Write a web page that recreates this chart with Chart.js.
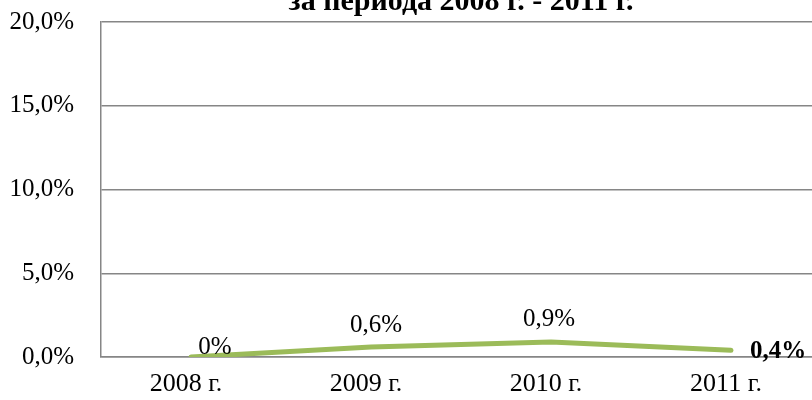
<!DOCTYPE html>
<html>
<head>
<meta charset="utf-8">
<script src="https://cdn.jsdelivr.net/npm/chart.js@4.4.1/dist/chart.umd.min.js"></script>
<style>
  html, body { margin: 0; padding: 0; overflow: hidden; background: #fff; }
  #wrap { position: absolute; left: 0; top: -20px; width: 822px; height: 420px; }
</style>
</head>
<body>
<div id="wrap"><canvas id="chart" width="822" height="420"></canvas></div>
<script>
const years = ["2008 г.", "2009 г.", "2010 г.", "2011 г."];
const shares = [0, 0.6, 0.9, 0.4];
const yTicks = [0, 5, 10, 15, 20];
const titleText = "за периода 2008 г. - 2011 г.";

const serif = "'Liberation Serif', 'Times New Roman', serif";

function pct(v) {
  return v === 0 ? "0%" : v.toFixed(1).replace(".", ",") + "%";
}

// value labels next to the points, offsets as in the original
const labelPlugin = {
  id: "valueLabels",
  afterDatasetsDraw(chart) {
    const ctx = chart.ctx;
    const meta = chart.getDatasetMeta(0);
    const offsets = [[24, -10], [5, -22], [-2, -22], [19, 1]];
    ctx.save();
    ctx.fillStyle = "#000";
    ctx.textBaseline = "middle";
    meta.data.forEach((pt, i) => {
      const last = i === meta.data.length - 1;
      ctx.font = (last ? "bold " : "") + "25px " + serif;
      ctx.textAlign = last ? "left" : "center";
      ctx.fillText(pct(shares[i]), pt.x + offsets[i][0], pt.y + offsets[i][1]);
    });
    ctx.restore();
  },
};

new Chart(document.getElementById("chart"), {
  type: "line",
  data: {
    labels: years,
    datasets: [
      {
        data: shares,
        borderColor: "#9BBB59",
        borderWidth: 5,
        borderCapStyle: "round",
        borderJoinStyle: "round",
        pointRadius: 0,
        tension: 0,
        fill: false,
      },
    ],
  },
  options: {
    responsive: false,
    animation: false,
    devicePixelRatio: 1,
    layout: { padding: { left: 0, right: 1, top: 0, bottom: 0 } },
    plugins: {
      legend: { display: false },
      tooltip: { enabled: false },
      title: {
        display: true,
        text: titleText,
        fullSize: false,
        color: "#000",
        font: { family: serif, size: 30, weight: "bold", lineHeight: 1.2 },
        padding: { top: 4, bottom: 2 },
      },
    },
    scales: {
      x: {
        offset: true,
        grid: { display: false, drawTicks: false },
        border: { display: true, color: "#868686", width: 1.5 },
        ticks: {
          color: "#000",
          font: { family: serif, size: 26 },
          padding: 12,
          labelOffset: -5,
          maxRotation: 0,
        },
        afterFit(scale) {
          scale.height = 43;
        },
      },
      y: {
        min: 0,
        max: 20,
        afterBuildTicks(scale) {
          scale.ticks = yTicks.map((v) => ({ value: v }));
        },
        grid: { color: "#868686", lineWidth: 1.5, drawTicks: false },
        border: { display: true, color: "#868686", width: 1.5 },
        ticks: {
          color: "#000",
          font: { family: serif, size: 25 },
          padding: 27,
          callback: (v) => v.toFixed(1).replace(".", ",") + "%",
        },
        afterFit(scale) {
          scale.width = 101;
        },
      },
    },
  },
  plugins: [labelPlugin],
});
</script>
</body>
</html>
